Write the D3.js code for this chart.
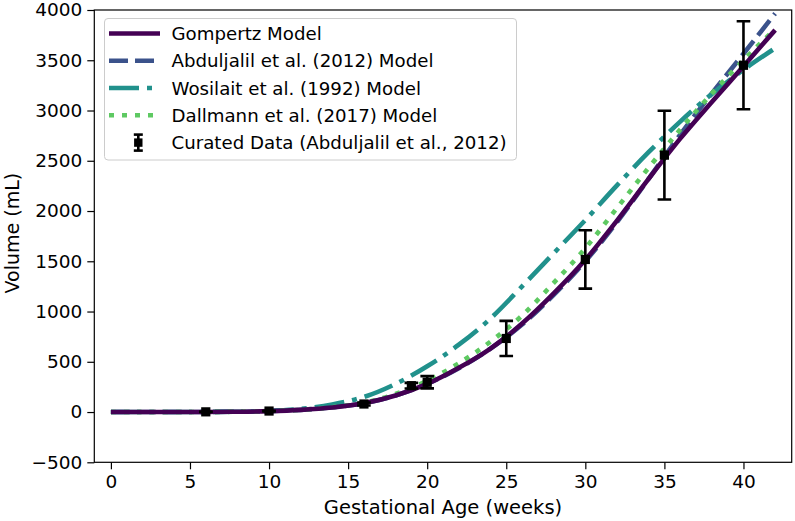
<!DOCTYPE html>
<html>
<head>
<meta charset="utf-8">
<script src="https://cdn.jsdelivr.net/npm/d3@7/dist/d3.min.js"></script>
<style>
  html, body { margin: 0; padding: 0; background: #fff; }
  svg { display: block; }
  text { font-family: "DejaVu Sans", sans-serif; fill: #000; }
</style>
</head>
<body>
<svg id="chart" width="795" height="521"></svg>
<script>
// ---- Data ----
const weeks = [0, 2, 4, 6, 8, 10, 12, 14, 16, 18, 20, 22, 24, 26, 28, 30, 32, 34, 36, 38, 40, 42];
const gompertz   = [0, 0, 0, 1, 3, 9, 22, 46, 88, 165, 280, 440, 632, 880, 1180, 1515, 1905, 2320, 2720, 3085, 3440, 3800];
const abduljalil = [0, 0, 0, 1, 3, 9, 22, 47, 88, 165, 280, 435, 630, 870, 1165, 1500, 1890, 2320, 2760, 3170, 3565, 3965];
const wosilait   = [0, 0, 0, 1, 3, 10, 30, 75, 150, 280, 455, 670, 930, 1250, 1580, 1910, 2255, 2585, 2890, 3165, 3405, 3620];
const dallmann   = [0, 0, 0, 1, 3, 9, 22, 48, 92, 180, 310, 485, 700, 960, 1285, 1630, 2030, 2430, 2810, 3170, 3500, 3810];

const dataWeeks = [6, 10, 16, 19, 20, 25, 30, 35, 40];
const dataVolume = [2, 10, 80, 262, 296, 732, 1518, 2556, 3450];
const dataError = [1, 3, 15, 28, 61, 175, 290, 441, 438];

const yTicks = [-500, 0, 500, 1000, 1500, 2000, 2500, 3000, 3500, 4000];
const xTicks = [0, 5, 10, 15, 20, 25, 30, 35, 40];

const seriesNames = ["Gompertz Model", "Abduljalil et al. (2012) Model", "Wosilait et al. (1992) Model", "Dallmann et al. (2017) Model"];
const dataName = "Curated Data (Abduljalil et al., 2012)";
const xLabel = "Gestational Age (weeks)";
const yLabel = "Volume (mL)";

// ---- Layout ----
const svg = d3.select("#chart");
const L = 94.3, R = 791.7, T = 10, B = 462.3;
const x = d3.scaleLinear().domain([-1.05, 43.05]).range([L, R]);
const y = d3.scaleLinear().domain([-500, 4000]).range([B, T]);

const colors = ["#440154", "#3b528b", "#21918c", "#5ec962"];
const dashes = [null, "19,7", "30,8,5,8", "5,8"];
const lw = 4.6;

const series = [gompertz, abduljalil, wosilait, dallmann];
const line = d3.line().x((d, i) => x(weeks[i])).y(d => y(d)).curve(d3.curveMonotoneX);

const plot = svg.append("g");
plot.append("clipPath").attr("id", "clip").append("rect")
  .attr("x", L).attr("y", T).attr("width", R - L).attr("height", B - T);
const pg = plot.append("g").attr("clip-path", "url(#clip)");

// draw order: others first, Gompertz on top
[1, 2, 3, 0].forEach(k => {
  pg.append("path")
    .datum(series[k])
    .attr("d", line)
    .attr("fill", "none")
    .attr("stroke", colors[k])
    .attr("stroke-width", lw)
    .attr("stroke-linecap", "butt")
    .attr("stroke-dasharray", dashes[k]);
});

// error bars
const eb = pg.append("g");
dataWeeks.forEach((w, i) => {
  const cx = x(w), v = dataVolume[i], e = dataError[i];
  const y1 = y(v + e), y2 = y(v - e);
  eb.append("line").attr("x1", cx).attr("x2", cx).attr("y1", y1).attr("y2", y2)
    .attr("stroke", "#000").attr("stroke-width", 2.6);
  [y1, y2].forEach(yy => eb.append("line").attr("x1", cx - 6.8).attr("x2", cx + 6.8)
    .attr("y1", yy).attr("y2", yy).attr("stroke", "#000").attr("stroke-width", 2.6));
  eb.append("rect").attr("x", cx - 4.6).attr("y", y(v) - 4.6).attr("width", 9.2).attr("height", 9.2)
    .attr("fill", "#000");
});

// axes
const yAxis = d3.axisLeft(y).tickValues(yTicks).tickSize(7).tickPadding(5)
  .tickFormat(d => d < 0 ? "\u2212" + Math.abs(d) : String(d));
const xAxis = d3.axisBottom(x).tickValues(xTicks).tickSize(7).tickPadding(6);

const gy = svg.append("g").attr("transform", `translate(${L},0)`).call(yAxis);
const gx = svg.append("g").attr("transform", `translate(0,${B})`).call(xAxis);
[gx, gy].forEach(g => {
  g.select(".domain").remove();
  g.selectAll(".tick line").attr("stroke", "#000").attr("stroke-width", 1.2);
  g.selectAll(".tick text").style("font-family", "DejaVu Sans").style("font-size", "18.5px").attr("fill", "#000");
});

// spines
svg.append("rect").attr("x", L).attr("y", T).attr("width", R - L).attr("height", B - T)
  .attr("fill", "none").attr("stroke", "#000").attr("stroke-width", 1.2);

// axis labels
svg.append("text").attr("x", (L + R) / 2).attr("y", 513.5).attr("text-anchor", "middle")
  .style("font-size", "19.5px").text(xLabel);
svg.append("text").attr("transform", `translate(18.5,${(T + B) / 2 - 3}) rotate(-90)`).attr("text-anchor", "middle")
  .style("font-size", "19px").text(yLabel);

// legend
const lg = svg.append("g");
lg.append("rect").attr("x", 104.5).attr("y", 18.5).attr("width", 412).attr("height", 141.5)
  .attr("rx", 3.5).attr("fill", "#fff").attr("fill-opacity", 0.8)
  .attr("stroke", "#cccccc").attr("stroke-width", 1);
const rowY = [33.5, 60.8, 88, 115.3, 142.6];
seriesNames.forEach((name, k) => {
  lg.append("line").attr("x1", 109).attr("x2", 160).attr("y1", rowY[k]).attr("y2", rowY[k])
    .attr("stroke", colors[k]).attr("stroke-width", lw).attr("stroke-dasharray", dashes[k]);
  lg.append("text").attr("x", 171.5).attr("y", rowY[k]).attr("dy", "0.36em")
    .style("font-size", "18.2px").text(name);
});
{
  const cx = 138.3, cy = rowY[4];
  lg.append("line").attr("x1", cx).attr("x2", cx).attr("y1", cy - 8).attr("y2", cy + 8)
    .attr("stroke", "#000").attr("stroke-width", 2.6);
  [cy - 8, cy + 8].forEach(yy => lg.append("line").attr("x1", cx - 4.5).attr("x2", cx + 4.5)
    .attr("y1", yy).attr("y2", yy).attr("stroke", "#000").attr("stroke-width", 2.6));
  lg.append("rect").attr("x", cx - 4.2).attr("y", cy - 4.2).attr("width", 8.4).attr("height", 8.4).attr("fill", "#000");
  lg.append("text").attr("x", 171.5).attr("y", cy).attr("dy", "0.36em")
    .style("font-size", "18.2px").text(dataName);
}
</script>
</body>
</html>
